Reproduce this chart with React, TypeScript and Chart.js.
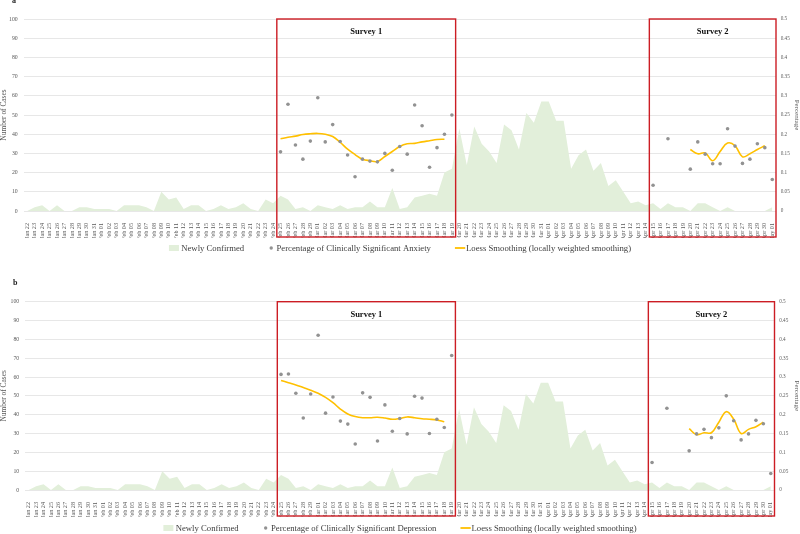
import React, { useEffect, useRef } from 'react';
import { Chart, registerables } from 'chart.js';

Chart.register(...registerables);

const FONT = "'Liberation Serif', 'Times New Roman', serif";

// ---------- categories (dates) ----------
const dateLabels: string[] = [
  'Jan 22', 'Jan 23', 'Jan 24', 'Jan 25', 'Jan 26', 'Jan 27', 'Jan 28', 'Jan 29', 'Jan 30', 'Jan 31',
  'Feb 01', 'Feb 02', 'Feb 03', 'Feb 04', 'Feb 05', 'Feb 06', 'Feb 07', 'Feb 08', 'Feb 09', 'Feb 10',
  'Feb 11', 'Feb 12', 'Feb 13', 'Feb 14', 'Feb 15', 'Feb 16', 'Feb 17', 'Feb 18', 'Feb 19', 'Feb 20',
  'Feb 21', 'Feb 22', 'Feb 23', 'Feb 24', 'Feb 25', 'Feb 26', 'Feb 27', 'Feb 28', 'Feb 29',
  'Mar 01', 'Mar 02', 'Mar 03', 'Mar 04', 'Mar 05', 'Mar 06', 'Mar 07', 'Mar 08', 'Mar 09', 'Mar 10',
  'Mar 11', 'Mar 12', 'Mar 13', 'Mar 14', 'Mar 15', 'Mar 16', 'Mar 17', 'Mar 18', 'Mar 19', 'Mar 20',
  'Mar 21', 'Mar 22', 'Mar 23', 'Mar 24', 'Mar 25', 'Mar 26', 'Mar 27', 'Mar 28', 'Mar 29', 'Mar 30', 'Mar 31',
  'Apr 01', 'Apr 02', 'Apr 03', 'Apr 04', 'Apr 05', 'Apr 06', 'Apr 07', 'Apr 08', 'Apr 09', 'Apr 10',
  'Apr 11', 'Apr 12', 'Apr 13', 'Apr 14', 'Apr 15', 'Apr 16', 'Apr 17', 'Apr 18', 'Apr 19', 'Apr 20',
  'Apr 21', 'Apr 22', 'Apr 23', 'Apr 24', 'Apr 25', 'Apr 26', 'Apr 27', 'Apr 28', 'Apr 29', 'Apr 30',
  'May 01',
];

// ---------- newly confirmed cases (one per date) ----------
const newlyConfirmed: number[] = [
  0, 2, 3, 0, 3, 0, 0, 2, 2, 1,
  1, 1, 0, 3, 3, 3, 2, 0, 10, 6,
  7, 1, 3, 3, 0, 1, 3, 1, 2, 4,
  1, 0, 6, 4, 8, 6, 1, 2, 0,
  3, 2, 1, 3, 1, 2, 2, 5, 2, 2,
  12, 1, 2, 7, 8, 9, 8, 20, 22, 43,
  24, 44, 35, 31, 25, 45, 42, 32, 51, 46, 57,
  57, 47, 47, 22, 29, 32, 21, 25, 13, 16,
  10, 4, 5, 3, 4, 1, 4, 2, 2, 0,
  4, 4, 2, 0, 2, 0, 0, 0, 0, 0,
  2,
];

// ---------- survey dates ----------
const survey1Dates = [
  'Feb 25', 'Feb 26', 'Feb 27', 'Feb 28', 'Feb 29', 'Mar 01', 'Mar 02', 'Mar 03', 'Mar 04', 'Mar 05',
  'Mar 06', 'Mar 07', 'Mar 08', 'Mar 09', 'Mar 10', 'Mar 11', 'Mar 12', 'Mar 13', 'Mar 14', 'Mar 15',
  'Mar 16', 'Mar 17', 'Mar 18', 'Mar 19',
];
const survey1LoessDates = survey1Dates.slice(0, 23);
const survey2Dates = [
  'Apr 15', 'Apr 17', 'Apr 20', 'Apr 21', 'Apr 22', 'Apr 23', 'Apr 24', 'Apr 25', 'Apr 26', 'Apr 27',
  'Apr 28', 'Apr 29', 'Apr 30', 'May 01',
];
const survey2LoessDates = [
  'Apr 20', 'Apr 21', 'Apr 22', 'Apr 23', 'Apr 24', 'Apr 25', 'Apr 26', 'Apr 27', 'Apr 28', 'Apr 29', 'Apr 30',
];

// ---------- anxiety ----------
const anxietySurvey1 = [
  0.154, 0.278, 0.172, 0.135, 0.182, 0.295, 0.18, 0.225, 0.181, 0.146,
  0.089, 0.135, 0.13, 0.128, 0.15, 0.106, 0.168, 0.148, 0.276, 0.222,
  0.114, 0.165, 0.2, 0.25,
];
const anxietyLoess1 = [
  0.188, 0.192, 0.195, 0.199, 0.201, 0.202, 0.2, 0.194, 0.179, 0.161,
  0.147, 0.135, 0.131, 0.129, 0.142, 0.155, 0.168, 0.175, 0.176, 0.18,
  0.183, 0.186, 0.187,
];
const anxietySurvey2 = [
  0.067, 0.188, 0.109, 0.18, 0.148, 0.123, 0.123, 0.214, 0.169, 0.124,
  0.135, 0.175, 0.165, 0.082,
];
const anxietyLoess2 = [0.16, 0.149, 0.151, 0.131, 0.155, 0.177, 0.17, 0.141, 0.149, 0.16, 0.17];

// ---------- depression ----------
const depressionSurvey1 = [
  0.307, 0.308, 0.257, 0.191, 0.255, 0.411, 0.204, 0.247, 0.183, 0.175,
  0.122, 0.258, 0.246, 0.13, 0.226, 0.156, 0.19, 0.149, 0.249, 0.244,
  0.15, 0.188, 0.166, 0.357,
];
const depressionLoess1 = [
  0.291, 0.285, 0.279, 0.272, 0.265, 0.257, 0.246, 0.232, 0.215, 0.202,
  0.195, 0.192, 0.192, 0.193, 0.191, 0.188, 0.19, 0.194, 0.192, 0.189,
  0.188, 0.186, 0.181,
];
const depressionSurvey2 = [
  0.073, 0.217, 0.104, 0.149, 0.161, 0.139, 0.165, 0.25, 0.184, 0.133,
  0.149, 0.185, 0.176, 0.044,
];
const depressionLoess2 = [0.163, 0.147, 0.152, 0.152, 0.18, 0.208, 0.188, 0.15, 0.161, 0.168, 0.18];

const surveyBoxes = [
  { title: 'Survey 1', start: 'Feb 25', end: 'Mar 19' },
  { title: 'Survey 2', start: 'Apr 15', end: 'May 01' },
];

// place sparse values onto the full date axis
function toSeries(dates: string[][], values: number[][]): (number | null)[] {
  const out: (number | null)[] = dateLabels.map(() => null);
  dates.forEach((ds, k) => {
    ds.forEach((d, i) => {
      const idx = dateLabels.indexOf(d);
      if (idx >= 0) out[idx] = values[k][i];
    });
  });
  return out;
}

const surveyBoxPlugin = {
  id: 'surveyBoxes',
  afterDraw(chart: any, _args: any, opts: any) {
    const { ctx, chartArea } = chart;
    const xs = chart.scales.x;
    const half = (xs.getPixelForTick(1) - xs.getPixelForTick(0)) / 2;
    ctx.save();
    for (const b of opts.boxes || []) {
      const l = xs.getPixelForTick(dateLabels.indexOf(b.start)) - half;
      const r = xs.getPixelForTick(dateLabels.indexOf(b.end)) + half;
      const t = chartArea.top;
      const bt = chartArea.bottom + opts.below;
      ctx.strokeStyle = '#cc1d24';
      ctx.lineWidth = 1.4;
      ctx.strokeRect(l, t, r - l, bt - t);
      ctx.fillStyle = '#111';
      ctx.font = `bold 8.5px ${FONT}`;
      ctx.textAlign = 'center';
      ctx.textBaseline = 'middle';
      ctx.fillText(b.title, (l + r) / 2, t + opts.titleOffset);
    }
    ctx.restore();
  },
};

const legendPlugin = {
  id: 'bottomLegend',
  afterDraw(chart: any, _args: any, opts: any) {
    const { ctx, chartArea } = chart;
    const y = chartArea.bottom + opts.offsetY;
    ctx.save();
    ctx.font = `8.7px ${FONT}`;
    ctx.textBaseline = 'middle';
    ctx.textAlign = 'left';
    const items = chart.data.datasets.map((ds: any) => {
      const kind = ds.fill ? 'rect' : ds.showLine === false ? 'dot' : 'line';
      const iconW = kind === 'rect' ? 10 : kind === 'dot' ? 6 : 10.3;
      const gap = kind === 'line' ? 0.8 : 2.3;
      const tw = ctx.measureText(ds.label).width;
      return { ds, kind, iconW, gap, tw, w: iconW + gap + tw };
    });
    const itemGap = 24;
    const total = items.reduce((s: number, it: any) => s + it.w, 0) + itemGap * (items.length - 1);
    let x = chart.width / 2 - total / 2;
    for (const it of items) {
      if (it.kind === 'rect') {
        ctx.fillStyle = it.ds.backgroundColor;
        ctx.fillRect(x, y - 3, it.iconW, 6);
      } else if (it.kind === 'dot') {
        ctx.fillStyle = it.ds.pointBackgroundColor;
        ctx.beginPath();
        ctx.arc(x + it.iconW / 2, y, 1.7, 0, Math.PI * 2);
        ctx.fill();
      } else {
        ctx.strokeStyle = it.ds.borderColor;
        ctx.lineWidth = 1.8;
        ctx.beginPath();
        ctx.moveTo(x, y);
        ctx.lineTo(x + it.iconW, y);
        ctx.stroke();
      }
      ctx.fillStyle = '#404040';
      ctx.fillText(it.ds.label, x + it.iconW + it.gap, y + 0.5);
      x += it.w + itemGap;
    }
    ctx.restore();
  },
};

type PanelProps = {
  height: number;
  padTop: number;
  padBottom: number;
  leftW: number;
  rightW: number;
  legendOffset: number;
  pctLabel: string;
  scatter: (number | null)[];
  loess: (number | null)[];
};

function Panel(props: PanelProps) {
  const ref = useRef<HTMLCanvasElement | null>(null);
  useEffect(() => {
    if (!ref.current) return;
    const axisTitleColor = '#595959';
    const chart = new Chart(ref.current, {
      type: 'line',
      data: {
        labels: dateLabels,
        datasets: [
          {
            label: 'Newly Confirmed',
            data: newlyConfirmed,
            yAxisID: 'y',
            fill: 'origin',
            backgroundColor: '#e2efda',
            borderWidth: 0,
            borderColor: 'rgba(0,0,0,0)',
            pointRadius: 0,
            tension: 0,
            order: 3,
          } as any,
          {
            label: props.pctLabel,
            data: props.scatter,
            yAxisID: 'y1',
            showLine: false,
            pointRadius: 1.8,
            pointBorderWidth: 0,
            pointBackgroundColor: '#929292',
            pointBorderColor: '#929292',
            order: 1,
          } as any,
          {
            label: 'Loess Smoothing (locally weighted smoothing)',
            data: props.loess,
            yAxisID: 'y1',
            borderColor: '#ffc000',
            borderWidth: 1.6,
            pointRadius: 0,
            tension: 0.4,
            spanGaps: false,
            fill: false,
            order: 2,
          } as any,
        ],
      },
      options: {
        responsive: false,
        animation: false,
        events: [],
        layout: { padding: { top: props.padTop, bottom: props.padBottom, left: 0, right: 0 } },
        plugins: {
          legend: { display: false },
          tooltip: { enabled: false },
          surveyBoxes: { boxes: surveyBoxes, below: 26, titleOffset: 13 },
          bottomLegend: { offsetY: props.legendOffset },
        } as any,
        scales: {
          x: {
            type: 'category',
            offset: true,
            grid: { display: false },
            border: { display: false },
            ticks: {
              autoSkip: false,
              minRotation: 90,
              maxRotation: 90,
              padding: 4,
              color: '#595959',
              font: { family: FONT, size: 6.2 },
            },
            afterFit: (s: any) => {
              s.height = 27;
            },
          },
          y: {
            position: 'left',
            min: 0,
            max: 100,
            ticks: { stepSize: 10, padding: 5.8, color: '#595959', font: { family: FONT, size: 5.8 } },
            grid: { color: '#e1e1e1', lineWidth: 0.8, drawTicks: false },
            border: { display: false },
            title: {
              display: true,
              text: 'Number of Cases',
              color: axisTitleColor,
              padding: { top: 0, bottom: 0 },
              font: { family: FONT, size: 7.4, lineHeight: 1 },
            },
            afterFit: (s: any) => {
              s.width = props.leftW;
            },
          },
          y1: {
            position: 'right',
            min: 0,
            max: 0.5,
            ticks: {
              stepSize: 0.05,
              padding: 4.7,
              color: '#595959',
              font: { family: FONT, size: 5.2 },
              callback: (v: any) => String(Math.round(Number(v) * 100) / 100),
            },
            grid: { display: false, drawTicks: false },
            border: { display: false },
            title: {
              display: true,
              text: 'Percentage',
              color: axisTitleColor,
              padding: { top: 0, bottom: 0 },
              font: { family: FONT, size: 7, lineHeight: 1 },
            },
            afterFit: (s: any) => {
              s.width = props.rightW;
            },
          },
        },
      } as any,
      plugins: [surveyBoxPlugin, legendPlugin],
    });
    return () => chart.destroy();
  }, [props]);
  return <canvas ref={ref} width={800} height={props.height} style={{ display: 'block', width: 800, height: props.height }} />;
}

const anxietyScatter = toSeries([survey1Dates, survey2Dates], [anxietySurvey1, anxietySurvey2]);
const anxietyLoess = toSeries([survey1LoessDates, survey2LoessDates], [anxietyLoess1, anxietyLoess2]);
const depressionScatter = toSeries([survey1Dates, survey2Dates], [depressionSurvey1, depressionSurvey2]);
const depressionLoess = toSeries([survey1LoessDates, survey2LoessDates], [depressionLoess1, depressionLoess2]);

const panelA: PanelProps = {
  height: 258,
  padTop: 19,
  padBottom: 20,
  leftW: 23.5,
  rightW: 24,
  legendOffset: 37,
  pctLabel: 'Percentage of Clinically Significant Anxiety',
  scatter: anxietyScatter,
  loess: anxietyLoess,
};
const panelB: PanelProps = {
  height: 276,
  padTop: 43.7,
  padBottom: 17,
  leftW: 25,
  rightW: 25.5,
  legendOffset: 38,
  pctLabel: 'Percentage of Clinically Significant Depression',
  scatter: depressionScatter,
  loess: depressionLoess,
};

const letterStyle: React.CSSProperties = {
  position: 'absolute',
  fontFamily: FONT,
  fontWeight: 'bold',
  fontSize: 8,
  lineHeight: '8px',
  color: '#222',
};

export default function App() {
  return (
    <div style={{ position: 'absolute', left: 0, top: 0, width: 800, height: 534, background: '#fff', overflow: 'hidden' }}>
      <div style={{ position: 'absolute', left: 0, top: 0 }}>
        <Panel {...panelA} />
      </div>
      <div style={{ position: 'absolute', left: 0, top: 258 }}>
        <Panel {...panelB} />
      </div>
      <div style={{ ...letterStyle, left: 12, top: -3 }}>a</div>
      <div style={{ ...letterStyle, left: 13, top: 278.5 }}>b</div>
    </div>
  );
}
